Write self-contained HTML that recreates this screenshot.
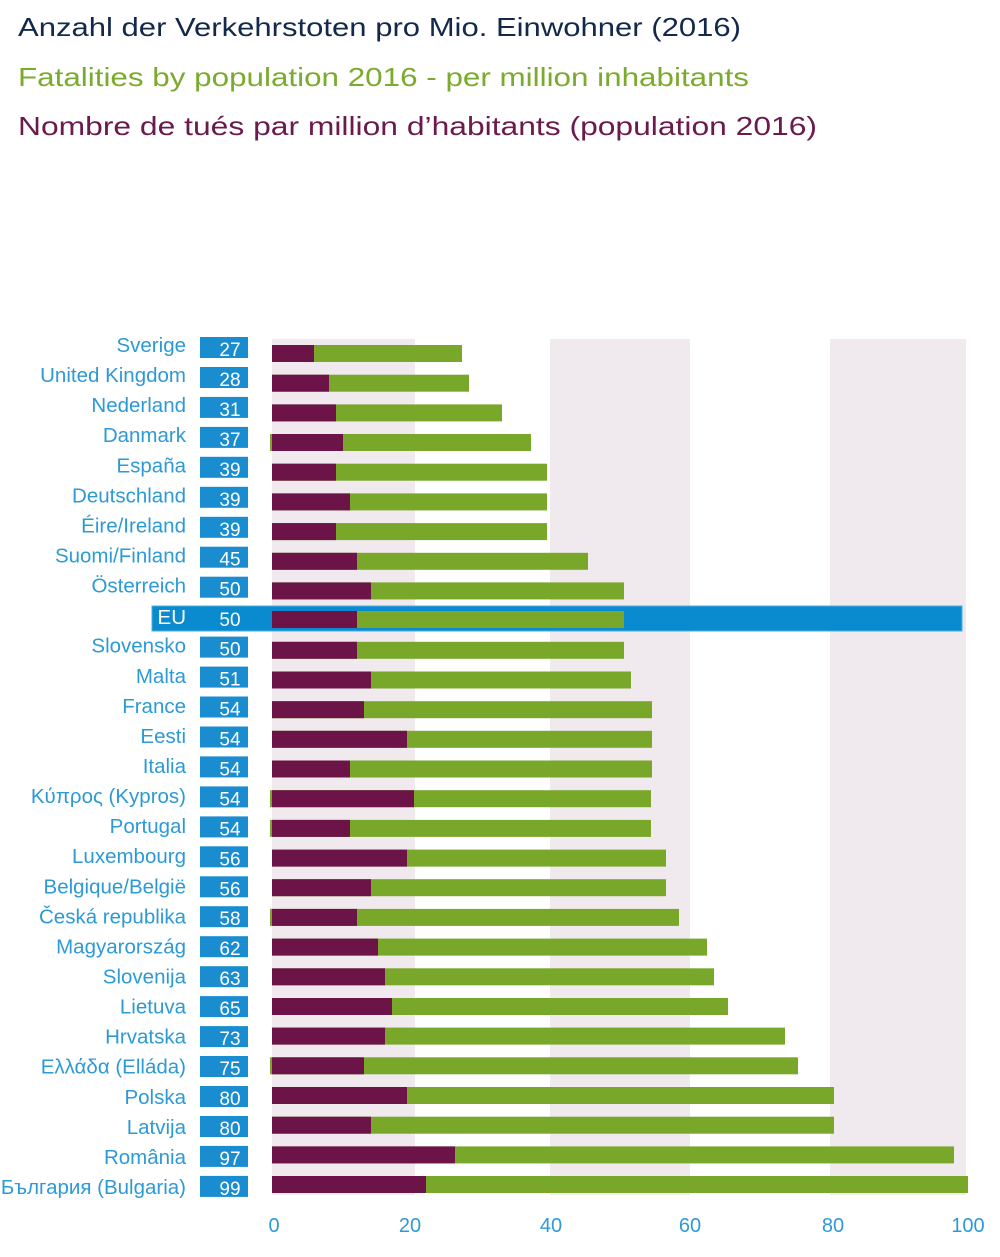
<!DOCTYPE html>
<html><head><meta charset="utf-8"><style>
html,body{margin:0;padding:0;background:#fff;}
svg{display:block;}
text{font-family:"Liberation Sans","DejaVu Sans",sans-serif;}
</style></head><body>
<svg width="1000" height="1257" viewBox="0 0 1000 1257" xmlns="http://www.w3.org/2000/svg">
<rect width="1000" height="1257" fill="#fff"/>
<text x="18" y="36" font-size="26" fill="#13294b" textLength="723" lengthAdjust="spacingAndGlyphs">Anzahl der Verkehrstoten pro Mio. Einwohner (2016)</text>
<text x="18" y="86" font-size="26" fill="#7bab2e" textLength="731" lengthAdjust="spacingAndGlyphs">Fatalities by population 2016 - per million inhabitants</text>
<text x="18" y="135" font-size="26" fill="#6b1a4d" textLength="799" lengthAdjust="spacingAndGlyphs">Nombre de tués par million d’habitants (population 2016)</text>

<!-- background bands -->
<g fill="#f0e9ed">
<rect x="272" y="339" width="143" height="856"/>
<rect x="550" y="339" width="140" height="856"/>
<rect x="830" y="339" width="136" height="856"/>
</g>

<!-- EU band -->
<rect x="152" y="606" width="810" height="25" fill="#0a8bd0" stroke="#49aee0" stroke-width="1"/>

<!-- number boxes -->
<g fill="#1a8dd0">
<rect x="200" y="337" width="48" height="21"/>
<rect x="200" y="367" width="48" height="21"/>
<rect x="200" y="396.9" width="48" height="21"/>
<rect x="200" y="426.9" width="48" height="21"/>
<rect x="200" y="456.8" width="48" height="21"/>
<rect x="200" y="486.8" width="48" height="21"/>
<rect x="200" y="516.8" width="48" height="21"/>
<rect x="200" y="546.7" width="48" height="21"/>
<rect x="200" y="576.7" width="48" height="21"/>
<rect x="200" y="636.6" width="48" height="21"/>
<rect x="200" y="666.6" width="48" height="21"/>
<rect x="200" y="696.5" width="48" height="21"/>
<rect x="200" y="726.5" width="48" height="21"/>
<rect x="200" y="756.4" width="48" height="21"/>
<rect x="200" y="786.4" width="48" height="21"/>
<rect x="200" y="816.4" width="48" height="21"/>
<rect x="200" y="846.3" width="48" height="21"/>
<rect x="200" y="876.3" width="48" height="21"/>
<rect x="200" y="906.2" width="48" height="21"/>
<rect x="200" y="936.2" width="48" height="21"/>
<rect x="200" y="966.2" width="48" height="21"/>
<rect x="200" y="996.1" width="48" height="21"/>
<rect x="200" y="1026.1" width="48" height="21"/>
<rect x="200" y="1056" width="48" height="21"/>
<rect x="200" y="1086" width="48" height="21"/>
<rect x="200" y="1116" width="48" height="21"/>
<rect x="200" y="1145.9" width="48" height="21"/>
<rect x="200" y="1175.9" width="48" height="21"/>
</g>

<!-- slivers -->
<g fill="#78a72a">
<rect x="270" y="434" width="3" height="17"/>
<rect x="270" y="790.2" width="3" height="17"/>
<rect x="270" y="819.9" width="3" height="17"/>
<rect x="270" y="908.9" width="3" height="17"/>
<rect x="270" y="1057.3" width="3" height="17"/>
</g>

<!-- green bars -->
<g fill="#78a72a">
<rect x="272" y="345" width="190" height="17"/>
<rect x="272" y="374.7" width="197" height="17"/>
<rect x="272" y="404.4" width="230" height="17"/>
<rect x="272" y="434" width="259" height="17"/>
<rect x="272" y="463.7" width="275" height="17"/>
<rect x="272" y="493.4" width="275" height="17"/>
<rect x="272" y="523.1" width="275" height="17"/>
<rect x="272" y="552.8" width="316" height="17"/>
<rect x="272" y="582.4" width="352" height="17"/>
<rect x="272" y="611" width="352" height="17"/>
<rect x="272" y="641.8" width="352" height="17"/>
<rect x="272" y="671.5" width="359" height="17"/>
<rect x="272" y="701.2" width="380" height="17"/>
<rect x="272" y="730.8" width="380" height="17"/>
<rect x="272" y="760.5" width="380" height="17"/>
<rect x="272" y="790.2" width="379" height="17"/>
<rect x="272" y="819.9" width="379" height="17"/>
<rect x="272" y="849.6" width="394" height="17"/>
<rect x="272" y="879.2" width="394" height="17"/>
<rect x="272" y="908.9" width="407" height="17"/>
<rect x="272" y="938.6" width="435" height="17"/>
<rect x="272" y="968.3" width="442" height="17"/>
<rect x="272" y="998" width="456" height="17"/>
<rect x="272" y="1027.6" width="513" height="17"/>
<rect x="272" y="1057.3" width="526" height="17"/>
<rect x="272" y="1087" width="562" height="17"/>
<rect x="272" y="1116.7" width="562" height="17"/>
<rect x="272" y="1146.4" width="682" height="17"/>
<rect x="272" y="1176" width="696" height="17"/>
</g>

<!-- purple bars -->
<g fill="#6c1448">
<rect x="272" y="345" width="42" height="17"/>
<rect x="272" y="374.7" width="57" height="17"/>
<rect x="272" y="404.4" width="64" height="17"/>
<rect x="272" y="434" width="71" height="17"/>
<rect x="272" y="463.7" width="64" height="17"/>
<rect x="272" y="493.4" width="78" height="17"/>
<rect x="272" y="523.1" width="64" height="17"/>
<rect x="272" y="552.8" width="85" height="17"/>
<rect x="272" y="582.4" width="99" height="17"/>
<rect x="272" y="611" width="85" height="17"/>
<rect x="272" y="641.8" width="85" height="17"/>
<rect x="272" y="671.5" width="99" height="17"/>
<rect x="272" y="701.2" width="92" height="17"/>
<rect x="272" y="730.8" width="135" height="17"/>
<rect x="272" y="760.5" width="78" height="17"/>
<rect x="272" y="790.2" width="142" height="17"/>
<rect x="272" y="819.9" width="78" height="17"/>
<rect x="272" y="849.6" width="135" height="17"/>
<rect x="272" y="879.2" width="99" height="17"/>
<rect x="272" y="908.9" width="85" height="17"/>
<rect x="272" y="938.6" width="106" height="17"/>
<rect x="272" y="968.3" width="113" height="17"/>
<rect x="272" y="998" width="120" height="17"/>
<rect x="272" y="1027.6" width="113" height="17"/>
<rect x="272" y="1057.3" width="92" height="17"/>
<rect x="272" y="1087" width="135" height="17"/>
<rect x="272" y="1116.7" width="99" height="17"/>
<rect x="272" y="1146.4" width="183" height="17"/>
<rect x="272" y="1176" width="154" height="17"/>
</g>

<!-- country labels -->
<g font-size="20.5" fill="#2d9ad6" text-anchor="end">
<text x="186" y="352">Sverige</text>
<text x="186" y="382.1">United Kingdom</text>
<text x="186" y="412.1">Nederland</text>
<text x="186" y="442.2">Danmark</text>
<text x="186" y="472.3">España</text>
<text x="186" y="502.4">Deutschland</text>
<text x="186" y="532.4">Éire/Ireland</text>
<text x="186" y="562.5">Suomi/Finland</text>
<text x="186" y="592.6">Österreich</text>
<text x="186" y="624" fill="#ffffff">EU</text>
<text x="186" y="652.7">Slovensko</text>
<text x="186" y="682.8">Malta</text>
<text x="186" y="712.8">France</text>
<text x="186" y="742.9">Eesti</text>
<text x="186" y="773">Italia</text>
<text x="186" y="803.1">Κύπρος (Kypros)</text>
<text x="186" y="833.1">Portugal</text>
<text x="186" y="863.2">Luxembourg</text>
<text x="186" y="893.3">Belgique/België</text>
<text x="186" y="923.3">Česká republika</text>
<text x="186" y="953.4">Magyarország</text>
<text x="186" y="983.5">Slovenija</text>
<text x="186" y="1013.5">Lietuva</text>
<text x="186" y="1043.6">Hrvatska</text>
<text x="186" y="1073.7">Ελλάδα (Elláda)</text>
<text x="186" y="1103.8">Polska</text>
<text x="186" y="1133.8">Latvija</text>
<text x="186" y="1163.9">România</text>
<text x="186" y="1194">България (Bulgaria)</text>
</g>

<!-- numbers -->
<g font-size="19" fill="#ffffff" text-anchor="middle">
<text x="230" y="356">27</text>
<text x="230" y="386">28</text>
<text x="230" y="415.9">31</text>
<text x="230" y="445.9">37</text>
<text x="230" y="475.8">39</text>
<text x="230" y="505.8">39</text>
<text x="230" y="535.8">39</text>
<text x="230" y="565.7">45</text>
<text x="230" y="595.7">50</text>
<text x="230" y="626">50</text>
<text x="230" y="655.6">50</text>
<text x="230" y="685.6">51</text>
<text x="230" y="715.5">54</text>
<text x="230" y="745.5">54</text>
<text x="230" y="775.4">54</text>
<text x="230" y="805.4">54</text>
<text x="230" y="835.4">54</text>
<text x="230" y="865.3">56</text>
<text x="230" y="895.3">56</text>
<text x="230" y="925.2">58</text>
<text x="230" y="955.2">62</text>
<text x="230" y="985.2">63</text>
<text x="230" y="1015.1">65</text>
<text x="230" y="1045.1">73</text>
<text x="230" y="1075">75</text>
<text x="230" y="1105">80</text>
<text x="230" y="1135">80</text>
<text x="230" y="1164.9">97</text>
<text x="230" y="1194.9">99</text>
</g>

<!-- axis ticks -->
<g font-size="20" fill="#2d9ad6" text-anchor="middle">
<text x="274" y="1232">0</text>
<text x="410" y="1232">20</text>
<text x="551" y="1232">40</text>
<text x="690" y="1232">60</text>
<text x="833" y="1232">80</text>
<text x="968" y="1232">100</text>
</g>
</svg>
</body></html>
